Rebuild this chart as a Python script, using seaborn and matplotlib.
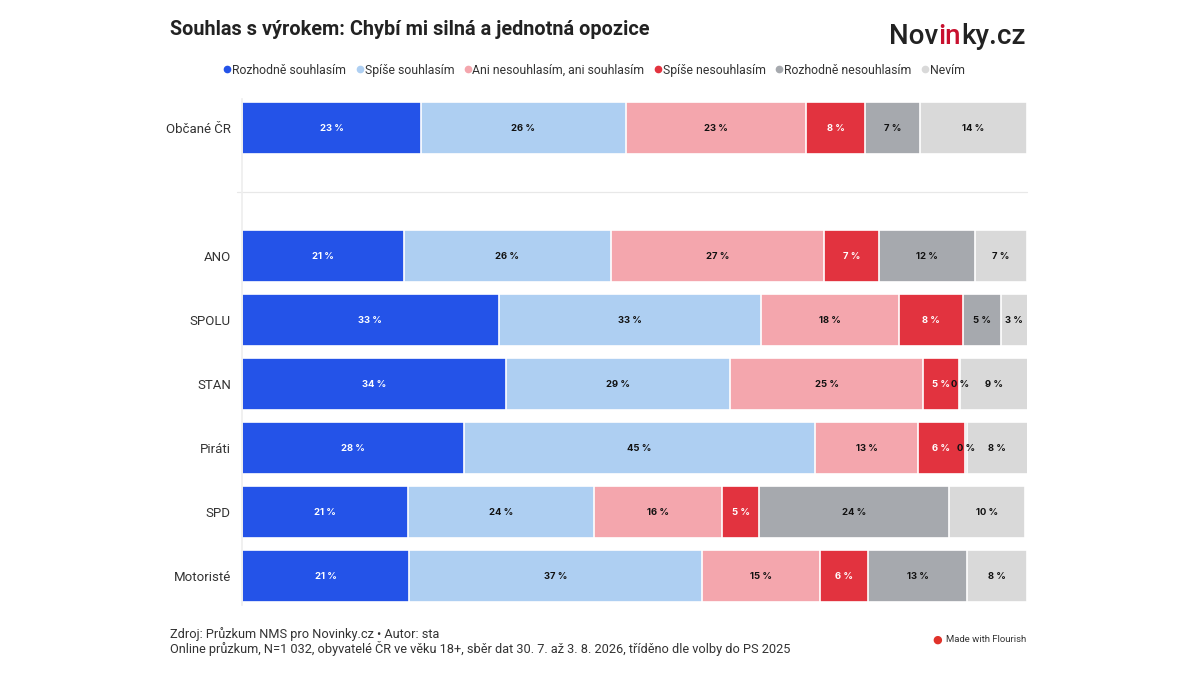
import matplotlib

matplotlib.use("Agg")
import matplotlib.pyplot as plt
import numpy as np
import pandas as pd
import seaborn as sns
from matplotlib.lines import Line2D

# --- data (% of respondents) ---
groups = ["Občané ČR", "ANO", "SPOLU", "STAN", "Piráti", "SPD", "Motoristé"]
answers = [
    "Rozhodně souhlasím",
    "Spíše souhlasím",
    "Ani nesouhlasím, ani souhlasím",
    "Spíše nesouhlasím",
    "Rozhodně nesouhlasím",
    "Nevím",
]
rozhodne_souhlasim = [22.8, 20.6, 32.7, 33.6, 28.3, 21.1, 21.3]
spise_souhlasim = [26.1, 26.4, 33.4, 28.6, 44.7, 23.7, 37.3]
ani_ani = [22.9, 27.1, 17.6, 24.6, 13.1, 16.4, 15.0]
spise_nesouhlasim = [7.6, 7.1, 8.2, 4.6, 6.0, 4.7, 6.1]
rozhodne_nesouhlasim = [7.0, 12.2, 4.8, 0.1, 0.2, 24.2, 12.7]
nevim = [13.6, 6.6, 3.4, 8.6, 7.8, 9.6, 7.6]

colors = ["#2453E8", "#AECFF2", "#F4A6AD", "#E2333F", "#A6A9AE", "#D9D9D9"]
label_colors = ["white", "#111111", "#111111", "white", "#111111", "#111111"]

title = "Souhlas s výrokem: Chybí mi silná a jednotná opozice"
source_line = "Zdroj: Průzkum NMS pro Novinky.cz • Autor: sta"
note_line = ("Online průzkum, N=1 032, obyvatelé ČR ve věku 18+, sběr dat 30. 7. až 3. 8. 2026, "
             "tříděno dle volby do PS 2025")

series = [rozhodne_souhlasim, spise_souhlasim, ani_ani,
          spise_nesouhlasim, rozhodne_nesouhlasim, nevim]

rows = []
for ans, vals in zip(answers, series):
    for g, v in zip(groups, vals):
        rows.append({"group": g, "answer": ans, "value": v})
df = pd.DataFrame(rows)
df["cum"] = df.groupby("group", sort=False)["value"].cumsum()
df["mid"] = df["cum"] - df["value"] / 2

# blank slot between the total and the party breakdown
order = [groups[0], " "] + groups[1:]

sns.set_theme(style="white")
plt.rcParams["font.family"] = ["Roboto", "DejaVu Sans"]

fig = plt.figure(figsize=(12, 6.75), dpi=100)
ax = fig.add_axes([0.2017, 0.104, 0.6541, 0.749])

# stacked bars: draw cumulative totals from the last answer back to the first
for ans, col in reversed(list(zip(answers, colors))):
    sub = df[df["answer"] == ans]
    sns.barplot(data=sub, x="cum", y="group", order=order, color=col,
                saturation=1, width=0.8, edgecolor="white", linewidth=1.2, ax=ax)

pos = {g: order.index(g) for g in groups}
for ans, tc in zip(answers, label_colors):
    sub = df[df["answer"] == ans]
    for _, r in sub.iterrows():
        ax.text(r["mid"], pos[r["group"]], f"{r['value']:.0f} %", ha="center",
                va="center", fontsize=6.8, fontweight="bold", color=tc,
                family=["Inter", "DejaVu Sans"])

ax.set_xlim(0, 100)
ax.set_ylim(7.45, -0.45)
ax.set_xlabel("")
ax.set_ylabel("")
ax.set_xticks([])
ax.tick_params(axis="y", length=3, color="#dddddd", labelsize=9.5,
               labelcolor="#333333", pad=5)
for s in ["top", "right", "bottom"]:
    ax.spines[s].set_visible(False)
ax.spines["left"].set_color("#eeeeee")
ax.axhline(1, xmin=-0.007, xmax=1, color="#e8e8e8", lw=0.9, clip_on=False, zorder=0)

# legend
handles = [Line2D([0], [0], marker="o", linestyle="", markersize=4.5,
                  markerfacecolor=c, markeredgecolor=c) for c in colors]
fig.legend(handles, answers, loc="center", bbox_to_anchor=(0.495, 0.896), ncol=6,
           frameon=False, fontsize=8.8, handletextpad=0.05, columnspacing=0.75,
           handlelength=0.7, labelcolor="#333333")

# title and logo
fig.text(0.1417, 0.956, title, fontsize=14.3, fontweight="bold", color="#222222",
         va="center", ha="left")
t1 = fig.text(0.741, 0.946, "Nov", fontsize=20, fontweight="medium",
              color="#222222", va="center", ha="left")
t2 = ax.annotate("in", xy=(1, 0), xycoords=t1, va="bottom", ha="left",
                 fontsize=20, fontweight="medium", color="#C8102E")
ax.annotate("ky.cz", xy=(1, 0), xycoords=t2, va="bottom", ha="left",
            fontsize=20, fontweight="medium", color="#222222")

# footer
fig.text(0.1417, 0.06, source_line, fontsize=9.2, color="#333333", va="center")
fig.text(0.1417, 0.039, note_line, fontsize=9.2, color="#333333", va="center")
fig.text(0.777, 0.052, "●", fontsize=8, color="#E0322A", va="center", ha="left")
fig.text(0.788, 0.052, "Made with Flourish", fontsize=6.8, color="#333333",
         va="center", ha="left")

fig.savefig("out.png", dpi=100)
plt.close(fig)
